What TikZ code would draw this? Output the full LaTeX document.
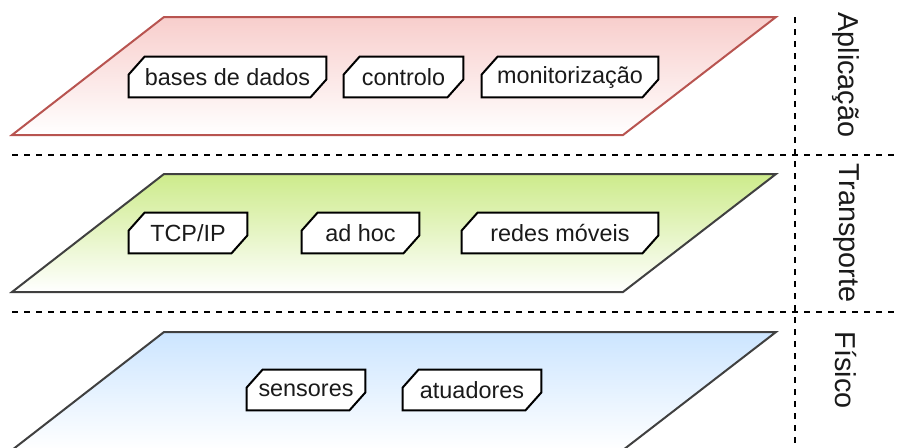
\documentclass[tikz,border=0pt]{standalone}
\usepackage{fontspec}
\setmainfont{Liberation Sans}
\definecolor{appTop}{HTML}{F8CECC}
\definecolor{appLine}{HTML}{B85450}
\definecolor{trTop}{HTML}{CDEB8B}
\definecolor{phyTop}{HTML}{CCE5FF}
\definecolor{planeLine}{HTML}{404040}
\definecolor{ink}{HTML}{1A1A1A}
\pgfdeclarelayer{planes}
\pgfdeclarelayer{tagbg}
\pgfsetlayers{planes,tagbg,main}
\tikzset{
  plane/.style={line width=1pt, line join=miter},
  sep/.style={line width=1pt, dash pattern=on 3pt off 3pt},
  tag/.style={font=\fontsize{11.7}{14}\selectfont, text=ink,
    minimum height=20pt, inner xsep=0pt, inner ysep=0pt},
  tagline/.style={draw=black, fill=white, line width=1pt, line join=miter},
  side/.style={font=\fontsize{14.4}{17}\selectfont, text=ink, rotate=-90,
    inner sep=0pt}
}
\begin{document}
\begin{tikzpicture}[x=0.5pt,y=-0.5pt]
\useasboundingbox (0,0) rectangle (900,447);
\clip (0,0) rectangle (900,447);

% layer planes
\begin{pgfonlayer}{planes}
\path[plane, draw=appLine, top color=appTop, bottom color=white]
  (164,17) -- (776,17) -- (623,135) -- (12,135) -- cycle;
\path[plane, draw=planeLine, top color=trTop, bottom color=white]
  (164,174) -- (776,174) -- (623,292) -- (12,292) -- cycle;
\path[plane, draw=planeLine, top color=phyTop, bottom color=white]
  (164,332) -- (776,332) -- (623,450) -- (12,450) -- cycle;
\end{pgfonlayer}

% separators
\draw[sep] (12,155) -- (900,155);
\draw[sep] (12,312) -- (900,312);
\draw[sep] (795,17) -- (795,447);

% layer names
\node[side] (apl) at (846,75) {Aplicação};
\node[side] (tra) at (846,233) {Transporte};
\node[side] (fis) at (846,370) {Físico};

% tags
\node[tag, minimum width=98.5pt] (bd)  at (227.5,77) {bases de dados};
\node[tag, minimum width=59.5pt] (ctl) at (403.5,77) {controlo};
\node[tag, minimum width=88pt]   (mon) at (570,77)   {monitorização};
\node[tag, minimum width=59pt]   (tcp) at (188,233)  {TCP/IP};
\node[tag, minimum width=58.5pt] (adh) at (360.5,233) {ad hoc};
\node[tag, minimum width=98pt]   (rm)  at (560,233)  {redes móveis};
\node[tag, minimum width=59pt]   (sen) at (306,390)  {sensores};
\node[tag, minimum width=69pt]   (atu) at (472,390)  {atuadores};

\begin{pgfonlayer}{tagbg}
\foreach \n in {bd,ctl,mon,tcp,adh,rm,sen,atu}{
  \path[tagline] ([xshift=8pt]\n.north west) -- (\n.north east)
    -- ([yshift=9pt]\n.south east) -- ([xshift=-8pt]\n.south east)
    -- (\n.south west) -- ([yshift=-9pt]\n.north west) -- cycle;
}
\end{pgfonlayer}
\end{tikzpicture}
\end{document}
